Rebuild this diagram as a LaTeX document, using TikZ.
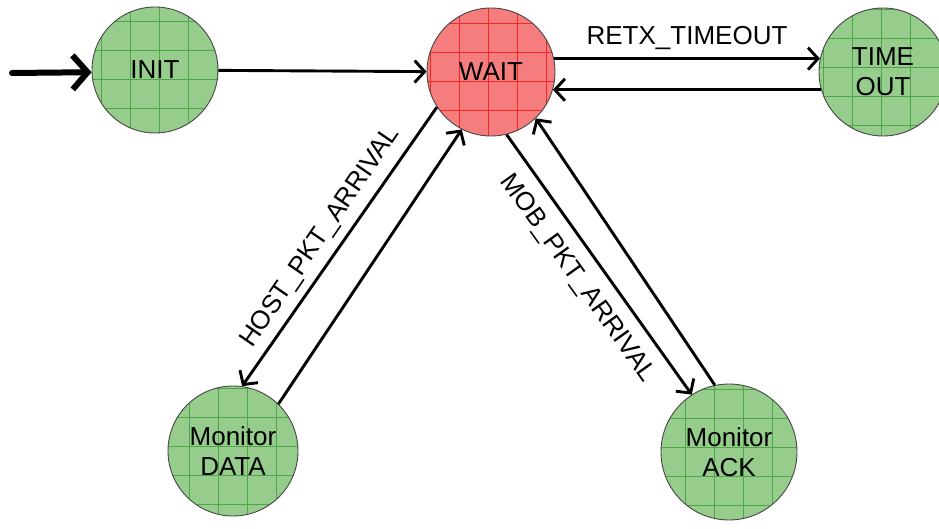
\documentclass[tikz,border=0pt]{standalone}
\usepackage{fontspec}
\setmainfont{Liberation Sans}
\usetikzlibrary{arrows.meta}

\definecolor{stategreen}{RGB}{150,204,140}
\definecolor{gridgreen}{RGB}{80,165,75}
\definecolor{statered}{RGB}{245,125,125}
\definecolor{gridred}{RGB}{240,40,40}
\definecolor{rimgray}{RGB}{70,70,70}

\tikzset{
  state/.style={circle, draw=rimgray, line width=0.9pt, inner sep=0pt,
    minimum size=#1, align=center, font=\fontsize{26}{30}\selectfont},
  greenstate/.style={state=#1, fill=stategreen,
    path picture={\draw[gridgreen, line width=0.5pt]
      (path picture bounding box.south west) grid[step=29pt]
      (path picture bounding box.north east);}},
  redstate/.style={state=#1, fill=statered,
    path picture={\draw[gridred, line width=0.5pt]
      (path picture bounding box.south west) grid[step=29pt]
      (path picture bounding box.north east);}},
  trans/.style={draw, line width=2.9pt,
    -{Straight Barb[length=10pt, width=22pt, line width=2.9pt]}},
  entry/.style={draw, line width=6pt, line cap=round,
    -{Straight Barb[length=15pt, width=34pt, line width=6pt]}},
  lbl/.style={anchor=base, inner sep=0pt, font=\fontsize{26}{30}\selectfont}
}

\begin{document}
\begin{tikzpicture}[x=1pt, y=-1pt]
  \useasboundingbox[fill=white] (0,0) rectangle (939,529);

  % states
  \node[greenstate=126pt] (init)    at (155,70)  {INIT};
  \node[redstate=128pt]   (wait)    at (491,72)  {WAIT};
  \node[greenstate=128pt] (timeout) at (883,72)  {TIME\\OUT};
  \node[greenstate=130pt] (data)    at (233,451) {Monitor\\DATA};
  \node[greenstate=136pt] (ack)     at (729,452) {Monitor\\ACK};

  % entry arrow
  \coordinate (start) at (12,73);
  \draw[entry] (start) -- (init.182);

  % transitions
  \draw[trans] (init) -- (wait);
  \draw[trans] (wait.12) -- (timeout.168);
  \draw[trans] (timeout.196) -- (wait.-16);
  \draw[trans] (wait.213.7) -- (data.82);
  \draw[trans] (data.46) -- (wait.-117);
  \draw[trans] (wait.-76) -- (ack.123.5);
  \draw[trans] (ack.102) -- (wait.-46.8);

  % transition labels
  \node[lbl] (lretx) at (687,45) {RETX\_TIMEOUT};
  \node[lbl, rotate=55.5] (lhost) at (326,241) {HOST\_PKT\_ARRIVAL};
  \node[lbl, rotate=-54.5] (lmob) at (572,282) {MOB\_PKT\_ARRIVAL};
\end{tikzpicture}
\end{document}
